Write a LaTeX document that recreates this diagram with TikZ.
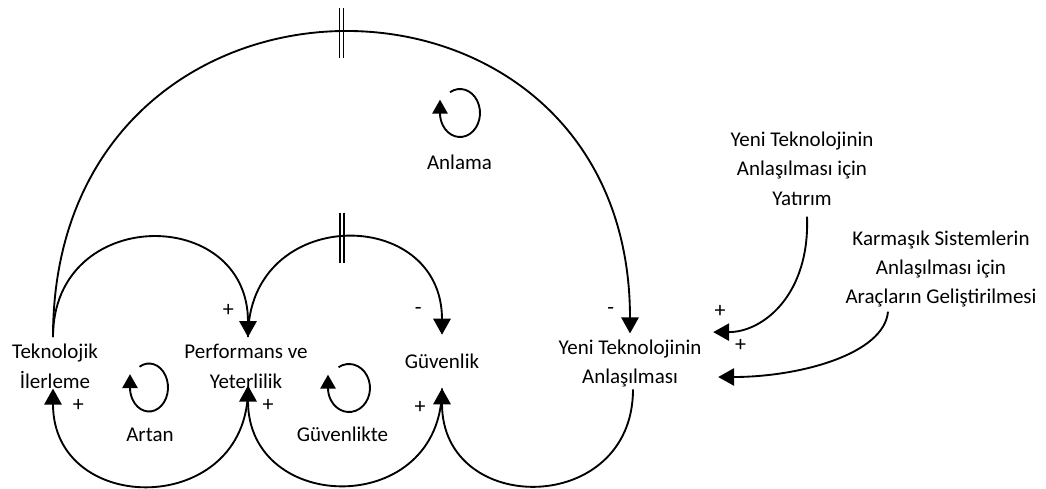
\documentclass[tikz,border=0pt]{standalone}
\usepackage{fontspec}
\setmainfont{Carlito}
\usetikzlibrary{arrows.meta}
\begin{document}
\begin{tikzpicture}[x=0.75pt,y=-0.75pt,
  txt/.style={font=\fontsize{15.75pt}{22pt}\selectfont, align=center, inner sep=0pt},
  sgn/.style={font=\fontsize{16.5pt}{18pt}\selectfont, inner sep=0pt},
  link/.style={line width=1.4pt, -{Triangle[length=12pt,width=13pt]}},
  loopsym/.style={line width=1.4pt, -{Triangle[length=10.5pt,width=11.5pt]}, shorten >=-10pt},
  hash/.style={line width=1.1pt}]
\useasboundingbox (0,0) rectangle (1046,489);

% variables
\node[txt] (tek)  at (55,366.3)  {Teknolojik\\İlerleme};
\node[txt] (perf) at (246,366.3) {Performans ve\\Yeterlilik};
\node[txt, minimum height=39.75pt] (guv) at (442,361.5) {Güvenlik};
\node[txt] (yeni) at (630,363.4) {Yeni Teknolojinin\\Anlaşılması};
\node[txt] (yat)  at (802,168.6) {Yeni Teknolojinin\\Anlaşılması için\\Yatırım};
\node[txt] (kar)  at (941,269)   {Karmaşık Sistemlerin\\Anlaşılması için\\Araçların Geliştirilmesi};

% loop labels
\node[txt] (artan)  at (150,435.2)   {Artan};
\node[txt] (guvlik) at (342.5,434.6) {Güvenlikte};
\node[txt] (anlama) at (459.5,162.6) {Anlama};

% connectors
\draw[link] ([shift={(-2,-7)}]tek.north) .. controls +(0,-405) and +(0,-401) .. ([shift={(0,-6)}]yeni.north) coordinate[pos=0.5] (d1);
\draw[link] ([shift={(-2,-7)}]tek.north) .. controls +(0,-132) and +(0,-132) .. ([shift={(2,-7)}]perf.north);
\draw[link] ([shift={(2,-7)}]perf.north) .. controls +(0,-132) and +(0,-130) .. (guv.north) coordinate[pos=0.5] (d2);
\draw[link] ([shift={(2,0)}]perf.south) .. controls +(0,129) and +(0,129) .. ([shift={(-2,0)}]tek.south);
\draw[link] (guv.south) .. controls +(0,130) and +(0,130) .. ([shift={(2,-3)}]perf.south);
\draw[link] ([shift={(3,2)}]yeni.south) .. controls +(0,127) and +(0,129) .. (guv.south);
\draw[link] ([shift={(5,11)}]yat.south) .. controls +(3,78) and +(50,0) .. ([shift={(11.5,-7.3)}]yeni.north east);
\draw[link] ([shift={(-53,4)}]kar.south) .. controls +(-4,43) and +(80,0) .. ([shift={(16.5,13.6)}]yeni.east);

% delay marks
\foreach \dx in {-2,2} {\draw[hash] ([shift={(\dx,-25)}]d1) -- ([shift={(\dx,25)}]d1);}
\foreach \dx in {-5,-1} {\draw[hash] ([shift={(\dx,-25)}]d2) -- ([shift={(\dx,25)}]d2);}

% polarity signs
\node[sgn] (s1) at (228.3,310.7) {+};
\node[sgn] (s2) at (418.3,310.7) {-};
\node[sgn] (s3) at (610.7,310.7) {-};
\node[sgn] (s4) at (78.3,405)    {+};
\node[sgn] (s5) at (268,405)     {+};
\node[sgn] (s6) at (420,407)     {+};
\node[sgn] (s7) at (720,311)     {+};
\node[sgn] (s8) at (740.7,345)   {+};

% loop symbols
\coordinate (lA) at (149,387.5);
\coordinate (lG) at (349,388);
\coordinate (lN) at (460,113);
\draw[loopsym] ([shift={(120:14.25pt and 18pt)}]lA) arc[start angle=120, end angle=-180, x radius=14.25pt, y radius=18pt];
\draw[loopsym] ([shift={(120:15.75pt and 18pt)}]lG) arc[start angle=120, end angle=-180, x radius=15.75pt, y radius=18pt];
\draw[loopsym] ([shift={(120:15pt and 18pt)}]lN) arc[start angle=120, end angle=-180, x radius=15pt, y radius=18pt];
\end{tikzpicture}
\end{document}
